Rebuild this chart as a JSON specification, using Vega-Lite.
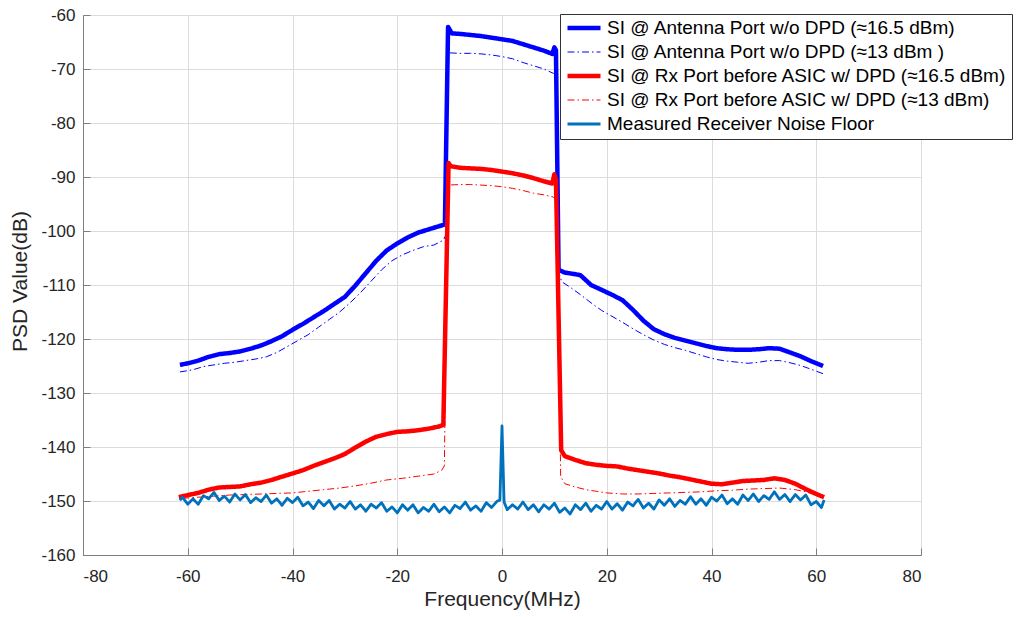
{
  "$schema": "https://vega.github.io/schema/vega-lite/v6.json",
  "width": 838,
  "height": 540,
  "autosize": {"type": "none"},
  "padding": {"left": 83, "top": 15, "right": 99, "bottom": 62},
  "background": "white",
  "data": {
    "values": [
      {"s": "A16", "f": -61.5, "p": -124.8}, {"s": "A16", "f": -60, "p": -124.5}, {"s": "A16", "f": -58, "p": -124.0}, {"s": "A16", "f": -56, "p": -123.3},
      {"s": "A16", "f": -54, "p": -122.8}, {"s": "A16", "f": -52, "p": -122.6}, {"s": "A16", "f": -50, "p": -122.3}, {"s": "A16", "f": -48, "p": -121.8},
      {"s": "A16", "f": -46, "p": -121.2}, {"s": "A16", "f": -44, "p": -120.4}, {"s": "A16", "f": -42, "p": -119.5}, {"s": "A16", "f": -40, "p": -118.3},
      {"s": "A16", "f": -38, "p": -117.2}, {"s": "A16", "f": -36, "p": -116.0}, {"s": "A16", "f": -34, "p": -114.8}, {"s": "A16", "f": -32, "p": -113.5},
      {"s": "A16", "f": -30, "p": -112.2}, {"s": "A16", "f": -28, "p": -110.1}, {"s": "A16", "f": -26, "p": -107.8}, {"s": "A16", "f": -24, "p": -105.5},
      {"s": "A16", "f": -22, "p": -103.6}, {"s": "A16", "f": -20, "p": -102.3}, {"s": "A16", "f": -18, "p": -101.2}, {"s": "A16", "f": -16, "p": -100.3},
      {"s": "A16", "f": -14, "p": -99.7}, {"s": "A16", "f": -12, "p": -99.1}, {"s": "A16", "f": -10.9, "p": -98.8}, {"s": "A16", "f": -10.3, "p": -62.2},
      {"s": "A16", "f": -9.6, "p": -63.4}, {"s": "A16", "f": -8, "p": -63.5}, {"s": "A16", "f": -6, "p": -63.7}, {"s": "A16", "f": -4, "p": -63.9},
      {"s": "A16", "f": -2, "p": -64.2}, {"s": "A16", "f": 0, "p": -64.5}, {"s": "A16", "f": 2, "p": -64.8}, {"s": "A16", "f": 4, "p": -65.4},
      {"s": "A16", "f": 6, "p": -66.0}, {"s": "A16", "f": 8, "p": -66.6}, {"s": "A16", "f": 9.6, "p": -67.2}, {"s": "A16", "f": 10.0, "p": -66.0},
      {"s": "A16", "f": 10.3, "p": -66.5}, {"s": "A16", "f": 10.8, "p": -107.2}, {"s": "A16", "f": 12, "p": -107.7}, {"s": "A16", "f": 14, "p": -108.0},
      {"s": "A16", "f": 15, "p": -108.2}, {"s": "A16", "f": 17, "p": -110.0}, {"s": "A16", "f": 19, "p": -110.9}, {"s": "A16", "f": 21, "p": -111.8},
      {"s": "A16", "f": 23, "p": -112.8}, {"s": "A16", "f": 25, "p": -114.6}, {"s": "A16", "f": 27, "p": -116.6}, {"s": "A16", "f": 29, "p": -118.2},
      {"s": "A16", "f": 31, "p": -119.1}, {"s": "A16", "f": 33, "p": -119.8}, {"s": "A16", "f": 35, "p": -120.3}, {"s": "A16", "f": 37, "p": -120.8},
      {"s": "A16", "f": 39, "p": -121.3}, {"s": "A16", "f": 41, "p": -121.7}, {"s": "A16", "f": 43, "p": -121.9}, {"s": "A16", "f": 45, "p": -122.0},
      {"s": "A16", "f": 47, "p": -122.0}, {"s": "A16", "f": 49, "p": -121.9}, {"s": "A16", "f": 51, "p": -121.7}, {"s": "A16", "f": 53, "p": -121.8},
      {"s": "A16", "f": 55, "p": -122.5}, {"s": "A16", "f": 57, "p": -123.2}, {"s": "A16", "f": 59, "p": -124.1}, {"s": "A16", "f": 61.3, "p": -125.0},

      {"s": "A13", "f": -61.5, "p": -126.1}, {"s": "A13", "f": -59, "p": -125.7}, {"s": "A13", "f": -57, "p": -125.1}, {"s": "A13", "f": -55, "p": -124.8},
      {"s": "A13", "f": -53, "p": -124.5}, {"s": "A13", "f": -51, "p": -124.3}, {"s": "A13", "f": -49, "p": -124.0}, {"s": "A13", "f": -47, "p": -123.7},
      {"s": "A13", "f": -45, "p": -123.3}, {"s": "A13", "f": -43, "p": -122.5}, {"s": "A13", "f": -41, "p": -121.4}, {"s": "A13", "f": -39, "p": -120.3},
      {"s": "A13", "f": -37, "p": -119.2}, {"s": "A13", "f": -35, "p": -117.8}, {"s": "A13", "f": -33, "p": -116.4}, {"s": "A13", "f": -31, "p": -115.0},
      {"s": "A13", "f": -29, "p": -113.3}, {"s": "A13", "f": -27, "p": -111.4}, {"s": "A13", "f": -25, "p": -109.3}, {"s": "A13", "f": -23, "p": -107.2},
      {"s": "A13", "f": -21, "p": -105.5}, {"s": "A13", "f": -19, "p": -104.4}, {"s": "A13", "f": -17, "p": -103.6}, {"s": "A13", "f": -15, "p": -102.9},
      {"s": "A13", "f": -13, "p": -102.6}, {"s": "A13", "f": -11.2, "p": -101.7}, {"s": "A13", "f": -10.6, "p": -100.5}, {"s": "A13", "f": -10.3, "p": -67.0},
      {"s": "A13", "f": -8, "p": -67.1}, {"s": "A13", "f": -6, "p": -67.1}, {"s": "A13", "f": -4, "p": -67.2}, {"s": "A13", "f": -2, "p": -67.4},
      {"s": "A13", "f": 0, "p": -67.7}, {"s": "A13", "f": 2, "p": -68.1}, {"s": "A13", "f": 4, "p": -68.8}, {"s": "A13", "f": 6, "p": -69.4},
      {"s": "A13", "f": 8, "p": -70.0}, {"s": "A13", "f": 9.8, "p": -70.8}, {"s": "A13", "f": 10.3, "p": -70.9}, {"s": "A13", "f": 10.8, "p": -107.5},
      {"s": "A13", "f": 11.4, "p": -109.4}, {"s": "A13", "f": 13, "p": -110.4}, {"s": "A13", "f": 15, "p": -111.8}, {"s": "A13", "f": 17, "p": -113.3},
      {"s": "A13", "f": 19, "p": -114.7}, {"s": "A13", "f": 21, "p": -115.8}, {"s": "A13", "f": 23, "p": -116.9}, {"s": "A13", "f": 25, "p": -118.1},
      {"s": "A13", "f": 27, "p": -119.2}, {"s": "A13", "f": 29, "p": -120.2}, {"s": "A13", "f": 31, "p": -121.0}, {"s": "A13", "f": 33, "p": -121.6},
      {"s": "A13", "f": 35, "p": -122.1}, {"s": "A13", "f": 37, "p": -122.7}, {"s": "A13", "f": 39, "p": -123.3}, {"s": "A13", "f": 41, "p": -123.8},
      {"s": "A13", "f": 43, "p": -124.1}, {"s": "A13", "f": 45, "p": -124.3}, {"s": "A13", "f": 47, "p": -124.5}, {"s": "A13", "f": 49, "p": -124.3},
      {"s": "A13", "f": 51, "p": -124.0}, {"s": "A13", "f": 53, "p": -124.0}, {"s": "A13", "f": 55, "p": -124.4}, {"s": "A13", "f": 57, "p": -124.9},
      {"s": "A13", "f": 59, "p": -125.6}, {"s": "A13", "f": 61.5, "p": -126.5},

      {"s": "R16", "f": -61.7, "p": -149.3}, {"s": "R16", "f": -60, "p": -148.9}, {"s": "R16", "f": -58, "p": -148.5}, {"s": "R16", "f": -56, "p": -147.9},
      {"s": "R16", "f": -54, "p": -147.5}, {"s": "R16", "f": -52, "p": -147.4}, {"s": "R16", "f": -50, "p": -147.3}, {"s": "R16", "f": -48, "p": -146.9},
      {"s": "R16", "f": -46, "p": -146.6}, {"s": "R16", "f": -44, "p": -146.1}, {"s": "R16", "f": -42, "p": -145.5}, {"s": "R16", "f": -40, "p": -144.9},
      {"s": "R16", "f": -38, "p": -144.3}, {"s": "R16", "f": -36, "p": -143.5}, {"s": "R16", "f": -34, "p": -142.8}, {"s": "R16", "f": -32, "p": -142.1},
      {"s": "R16", "f": -30, "p": -141.3}, {"s": "R16", "f": -28, "p": -140.1}, {"s": "R16", "f": -26, "p": -139.0}, {"s": "R16", "f": -24, "p": -138.1},
      {"s": "R16", "f": -22, "p": -137.6}, {"s": "R16", "f": -20, "p": -137.2}, {"s": "R16", "f": -18, "p": -137.1}, {"s": "R16", "f": -16, "p": -136.9},
      {"s": "R16", "f": -14, "p": -136.6}, {"s": "R16", "f": -12, "p": -136.2}, {"s": "R16", "f": -11.2, "p": -135.9}, {"s": "R16", "f": -10.2, "p": -87.4},
      {"s": "R16", "f": -9.8, "p": -88.0}, {"s": "R16", "f": -8, "p": -88.3}, {"s": "R16", "f": -6, "p": -88.4}, {"s": "R16", "f": -4, "p": -88.5},
      {"s": "R16", "f": -2, "p": -88.7}, {"s": "R16", "f": 0, "p": -89.0}, {"s": "R16", "f": 2, "p": -89.3}, {"s": "R16", "f": 4, "p": -89.7},
      {"s": "R16", "f": 6, "p": -90.2}, {"s": "R16", "f": 8, "p": -90.8}, {"s": "R16", "f": 9.6, "p": -91.2}, {"s": "R16", "f": 10.0, "p": -89.5},
      {"s": "R16", "f": 10.3, "p": -90.5}, {"s": "R16", "f": 11.3, "p": -140.6}, {"s": "R16", "f": 12, "p": -141.7}, {"s": "R16", "f": 14, "p": -142.4},
      {"s": "R16", "f": 16, "p": -143.0}, {"s": "R16", "f": 18, "p": -143.3}, {"s": "R16", "f": 20, "p": -143.5}, {"s": "R16", "f": 22, "p": -143.6},
      {"s": "R16", "f": 24, "p": -144.0}, {"s": "R16", "f": 26, "p": -144.3}, {"s": "R16", "f": 28, "p": -144.6}, {"s": "R16", "f": 30, "p": -144.9},
      {"s": "R16", "f": 32, "p": -145.3}, {"s": "R16", "f": 34, "p": -145.6}, {"s": "R16", "f": 36, "p": -146.0}, {"s": "R16", "f": 38, "p": -146.4},
      {"s": "R16", "f": 40, "p": -146.8}, {"s": "R16", "f": 42, "p": -146.9}, {"s": "R16", "f": 44, "p": -146.6}, {"s": "R16", "f": 46, "p": -146.3},
      {"s": "R16", "f": 48, "p": -146.2}, {"s": "R16", "f": 50, "p": -146.1}, {"s": "R16", "f": 52, "p": -145.8}, {"s": "R16", "f": 54, "p": -146.1},
      {"s": "R16", "f": 56, "p": -146.8}, {"s": "R16", "f": 58, "p": -147.8}, {"s": "R16", "f": 60, "p": -148.7}, {"s": "R16", "f": 61.5, "p": -149.3},

      {"s": "R13", "f": -61, "p": -149.5}, {"s": "R13", "f": -58, "p": -149.3}, {"s": "R13", "f": -55, "p": -149.1}, {"s": "R13", "f": -52, "p": -148.9},
      {"s": "R13", "f": -49, "p": -148.8}, {"s": "R13", "f": -46, "p": -148.7}, {"s": "R13", "f": -43, "p": -148.6}, {"s": "R13", "f": -40, "p": -148.5},
      {"s": "R13", "f": -37, "p": -148.2}, {"s": "R13", "f": -34, "p": -147.9}, {"s": "R13", "f": -31, "p": -147.6}, {"s": "R13", "f": -28, "p": -147.2},
      {"s": "R13", "f": -25, "p": -146.7}, {"s": "R13", "f": -22, "p": -146.1}, {"s": "R13", "f": -19, "p": -145.8}, {"s": "R13", "f": -16, "p": -145.4},
      {"s": "R13", "f": -13, "p": -145.0}, {"s": "R13", "f": -11.5, "p": -144.3}, {"s": "R13", "f": -11, "p": -143.5}, {"s": "R13", "f": -10.4, "p": -91.5},
      {"s": "R13", "f": -8, "p": -91.4}, {"s": "R13", "f": -6, "p": -91.4}, {"s": "R13", "f": -4, "p": -91.5}, {"s": "R13", "f": -2, "p": -91.6},
      {"s": "R13", "f": 0, "p": -91.8}, {"s": "R13", "f": 2, "p": -92.1}, {"s": "R13", "f": 4, "p": -92.5}, {"s": "R13", "f": 6, "p": -93.0},
      {"s": "R13", "f": 8, "p": -93.3}, {"s": "R13", "f": 9.8, "p": -93.7}, {"s": "R13", "f": 10.6, "p": -94.5}, {"s": "R13", "f": 11.2, "p": -145.5},
      {"s": "R13", "f": 12, "p": -146.8}, {"s": "R13", "f": 14, "p": -147.4}, {"s": "R13", "f": 16, "p": -147.9}, {"s": "R13", "f": 18, "p": -148.2},
      {"s": "R13", "f": 20, "p": -148.5}, {"s": "R13", "f": 23, "p": -148.7}, {"s": "R13", "f": 26, "p": -148.7}, {"s": "R13", "f": 29, "p": -148.6},
      {"s": "R13", "f": 32, "p": -148.5}, {"s": "R13", "f": 35, "p": -148.4}, {"s": "R13", "f": 38, "p": -148.3}, {"s": "R13", "f": 41, "p": -148.1},
      {"s": "R13", "f": 44, "p": -148.0}, {"s": "R13", "f": 47, "p": -147.8}, {"s": "R13", "f": 50, "p": -147.7}, {"s": "R13", "f": 53, "p": -147.6},
      {"s": "R13", "f": 56, "p": -147.9}, {"s": "R13", "f": 58, "p": -148.3}, {"s": "R13", "f": 60, "p": -148.9}, {"s": "R13", "f": 61, "p": -149.2},

      {"s": "NF", "f": -61.5, "p": -149.9}, {"s": "NF", "f": -61, "p": -149.3}, {"s": "NF", "f": -60, "p": -150.6}, {"s": "NF", "f": -59, "p": -149.6},
      {"s": "NF", "f": -58, "p": -150.6}, {"s": "NF", "f": -57, "p": -149.0}, {"s": "NF", "f": -56, "p": -149.6}, {"s": "NF", "f": -55, "p": -148.4},
      {"s": "NF", "f": -54, "p": -149.9}, {"s": "NF", "f": -53, "p": -149.1}, {"s": "NF", "f": -52, "p": -150.2}, {"s": "NF", "f": -51, "p": -148.7},
      {"s": "NF", "f": -50, "p": -149.8}, {"s": "NF", "f": -49, "p": -148.8}, {"s": "NF", "f": -48, "p": -150.3}, {"s": "NF", "f": -47, "p": -149.4},
      {"s": "NF", "f": -46, "p": -150.1}, {"s": "NF", "f": -45, "p": -148.9}, {"s": "NF", "f": -44, "p": -150.4}, {"s": "NF", "f": -43, "p": -149.6},
      {"s": "NF", "f": -42, "p": -150.8}, {"s": "NF", "f": -41, "p": -149.5}, {"s": "NF", "f": -40, "p": -150.3}, {"s": "NF", "f": -39, "p": -149.3},
      {"s": "NF", "f": -38, "p": -150.9}, {"s": "NF", "f": -37, "p": -150.2}, {"s": "NF", "f": -36, "p": -151.4}, {"s": "NF", "f": -35, "p": -149.9},
      {"s": "NF", "f": -34, "p": -150.9}, {"s": "NF", "f": -33, "p": -149.9}, {"s": "NF", "f": -32, "p": -151.5}, {"s": "NF", "f": -31, "p": -150.6},
      {"s": "NF", "f": -30, "p": -151.3}, {"s": "NF", "f": -29, "p": -150.1}, {"s": "NF", "f": -28, "p": -151.5}, {"s": "NF", "f": -27, "p": -150.7},
      {"s": "NF", "f": -26, "p": -151.9}, {"s": "NF", "f": -25, "p": -150.6}, {"s": "NF", "f": -24, "p": -151.3}, {"s": "NF", "f": -23, "p": -150.3},
      {"s": "NF", "f": -22, "p": -151.9}, {"s": "NF", "f": -21, "p": -151.1}, {"s": "NF", "f": -20, "p": -152.2}, {"s": "NF", "f": -19, "p": -150.7},
      {"s": "NF", "f": -18, "p": -151.7}, {"s": "NF", "f": -17, "p": -150.7}, {"s": "NF", "f": -16, "p": -152.2}, {"s": "NF", "f": -15, "p": -151.2},
      {"s": "NF", "f": -14, "p": -151.9}, {"s": "NF", "f": -13, "p": -150.6}, {"s": "NF", "f": -12, "p": -152.0}, {"s": "NF", "f": -11, "p": -151.1},
      {"s": "NF", "f": -10, "p": -152.2}, {"s": "NF", "f": -9, "p": -150.8}, {"s": "NF", "f": -8, "p": -151.4}, {"s": "NF", "f": -7, "p": -150.2},
      {"s": "NF", "f": -6, "p": -151.7}, {"s": "NF", "f": -5, "p": -150.9}, {"s": "NF", "f": -4, "p": -151.9}, {"s": "NF", "f": -3, "p": -150.3},
      {"s": "NF", "f": -2, "p": -151.2}, {"s": "NF", "f": -1, "p": -150.1}, {"s": "NF", "f": -0.4, "p": -149.8}, {"s": "NF", "f": 0, "p": -136.1},
      {"s": "NF", "f": 0.4, "p": -150.2}, {"s": "NF", "f": 1, "p": -151.6}, {"s": "NF", "f": 2, "p": -150.7}, {"s": "NF", "f": 3, "p": -151.5},
      {"s": "NF", "f": 4, "p": -150.2}, {"s": "NF", "f": 5, "p": -151.6}, {"s": "NF", "f": 6, "p": -150.7}, {"s": "NF", "f": 7, "p": -152.0},
      {"s": "NF", "f": 8, "p": -150.7}, {"s": "NF", "f": 9, "p": -151.5}, {"s": "NF", "f": 10, "p": -150.4}, {"s": "NF", "f": 11, "p": -152.1},
      {"s": "NF", "f": 12, "p": -151.3}, {"s": "NF", "f": 13, "p": -152.4}, {"s": "NF", "f": 14, "p": -150.7}, {"s": "NF", "f": 15, "p": -151.6},
      {"s": "NF", "f": 16, "p": -150.4}, {"s": "NF", "f": 17, "p": -151.9}, {"s": "NF", "f": 18, "p": -150.8}, {"s": "NF", "f": 19, "p": -151.5},
      {"s": "NF", "f": 20, "p": -150.1}, {"s": "NF", "f": 21, "p": -151.5}, {"s": "NF", "f": 22, "p": -150.5}, {"s": "NF", "f": 23, "p": -151.7},
      {"s": "NF", "f": 24, "p": -150.2}, {"s": "NF", "f": 25, "p": -150.9}, {"s": "NF", "f": 26, "p": -149.7}, {"s": "NF", "f": 27, "p": -151.3},
      {"s": "NF", "f": 28, "p": -150.4}, {"s": "NF", "f": 29, "p": -151.5}, {"s": "NF", "f": 30, "p": -149.8}, {"s": "NF", "f": 31, "p": -150.8},
      {"s": "NF", "f": 32, "p": -149.6}, {"s": "NF", "f": 33, "p": -151.0}, {"s": "NF", "f": 34, "p": -149.9}, {"s": "NF", "f": 35, "p": -150.6},
      {"s": "NF", "f": 36, "p": -149.2}, {"s": "NF", "f": 37, "p": -150.6}, {"s": "NF", "f": 38, "p": -149.6}, {"s": "NF", "f": 39, "p": -150.8},
      {"s": "NF", "f": 40, "p": -149.3}, {"s": "NF", "f": 41, "p": -150.0}, {"s": "NF", "f": 42, "p": -148.9}, {"s": "NF", "f": 43, "p": -150.5},
      {"s": "NF", "f": 44, "p": -149.6}, {"s": "NF", "f": 45, "p": -150.6}, {"s": "NF", "f": 46, "p": -148.9}, {"s": "NF", "f": 47, "p": -149.9},
      {"s": "NF", "f": 48, "p": -148.7}, {"s": "NF", "f": 49, "p": -150.1}, {"s": "NF", "f": 50, "p": -149.0}, {"s": "NF", "f": 51, "p": -149.7},
      {"s": "NF", "f": 52, "p": -148.3}, {"s": "NF", "f": 53, "p": -149.7}, {"s": "NF", "f": 54, "p": -148.8}, {"s": "NF", "f": 55, "p": -150.1},
      {"s": "NF", "f": 56, "p": -148.8}, {"s": "NF", "f": 57, "p": -149.8}, {"s": "NF", "f": 58, "p": -148.9}, {"s": "NF", "f": 59, "p": -150.7},
      {"s": "NF", "f": 60, "p": -150.1}, {"s": "NF", "f": 61, "p": -151.2}, {"s": "NF", "f": 61.5, "p": -149.8}
    ]
  },
  "encoding": {
    "x": {
      "field": "f", "type": "quantitative",
      "scale": {"domain": [-80, 80], "nice": false, "zero": false},
      "axis": {"title": "Frequency(MHz)", "values": [-80, -60, -40, -20, 0, 20, 40, 60, 80], "labelPadding": 20, "titleY": 50, "titleBaseline": "alphabetic"}
    },
    "y": {
      "field": "p", "type": "quantitative",
      "scale": {"domain": [-160, -60], "nice": false, "zero": false},
      "axis": {"title": "PSD Value(dB)", "values": [-160, -150, -140, -130, -120, -110, -100, -90, -80, -70, -60], "labelPadding": 15, "titleX": -63, "titleY": 266, "titleBaseline": "middle", "titleAlign": "center", "titleAngle": 270}
    },
    "color": {
      "field": "s", "type": "nominal",
      "scale": {"domain": ["A16", "A13", "R16", "R13", "NF"], "range": ["#0000ff", "#0000ff", "#ff0000", "#ff0000", "#0072bd"]},
      "legend": {"title": null, "labelExpr": "datum.label == 'A16' ? 'SI @ Antenna Port w/o DPD (≈16.5 dBm)' : datum.label == 'A13' ? 'SI @ Antenna Port w/o DPD (≈13 dBm )' : datum.label == 'R16' ? 'SI @ Rx Port before ASIC w/ DPD (≈16.5 dBm)' : datum.label == 'R13' ? 'SI @ Rx Port before ASIC w/ DPD (≈13 dBm)' : 'Measured Receiver Noise Floor'"}
    },
    "strokeDash": {
      "field": "s", "type": "nominal",
      "scale": {"domain": ["A16", "A13", "R16", "R13", "NF"], "range": [[1, 0], [7, 3, 1.5, 3], [1, 0], [7, 3, 1.5, 3], [1, 0]]},
      "legend": {"title": null, "labelExpr": "datum.label == 'A16' ? 'SI @ Antenna Port w/o DPD (≈16.5 dBm)' : datum.label == 'A13' ? 'SI @ Antenna Port w/o DPD (≈13 dBm )' : datum.label == 'R16' ? 'SI @ Rx Port before ASIC w/ DPD (≈16.5 dBm)' : datum.label == 'R13' ? 'SI @ Rx Port before ASIC w/ DPD (≈13 dBm)' : 'Measured Receiver Noise Floor'"}
    },
    "strokeWidth": {
      "field": "s", "type": "nominal",
      "scale": {"type": "ordinal", "domain": ["A16", "A13", "R16", "R13", "NF"], "range": [4.5, 1, 4.5, 1, 2.8]},
      "legend": {"title": null, "labelExpr": "datum.label == 'A16' ? 'SI @ Antenna Port w/o DPD (≈16.5 dBm)' : datum.label == 'A13' ? 'SI @ Antenna Port w/o DPD (≈13 dBm )' : datum.label == 'R16' ? 'SI @ Rx Port before ASIC w/ DPD (≈16.5 dBm)' : datum.label == 'R13' ? 'SI @ Rx Port before ASIC w/ DPD (≈13 dBm)' : 'Measured Receiver Noise Floor'"}
    }
  },
  "layer": [
    {"transform": [{"filter": {"field": "s", "equal": "A16"}}], "mark": {"type": "line", "strokeJoin": "round"}},
    {"transform": [{"filter": {"field": "s", "equal": "A13"}}], "mark": {"type": "line", "strokeJoin": "round"}},
    {"transform": [{"filter": {"field": "s", "equal": "R16"}}], "mark": {"type": "line", "strokeJoin": "round"}},
    {"transform": [{"filter": {"field": "s", "equal": "R13"}}], "mark": {"type": "line", "strokeJoin": "round"}},
    {"transform": [{"filter": {"field": "s", "equal": "NF"}}], "mark": {"type": "line", "strokeJoin": "round"}}
  ],
  "config": {
    "view": {"stroke": "#808080", "strokeWidth": 1},
    "axis": {
      "labelFont": "Liberation Sans", "labelFontSize": 17, "labelColor": "#262626",
      "titleFont": "Liberation Sans", "titleFontSize": 21, "titleFontWeight": "normal", "titleColor": "#262626",
      "grid": true, "gridColor": "#dcdcdc", "gridWidth": 1,
      "domainColor": "#808080", "domainWidth": 1,
      "tickColor": "#808080", "tickSize": -7,
      "labelExpr": "'' + datum.value"
    },
    "legend": {
      "orient": "none", "legendX": 477, "legendY": -1,
      "fillColor": "white", "strokeColor": "#333333", "padding": 5,
      "labelFont": "Liberation Sans", "labelFontSize": 19, "labelColor": "black", "labelLimit": 700,
      "labelOffset": 4, "symbolType": "stroke", "symbolSize": 1089, "clipHeight": 18, "rowPadding": 5
    }
  }
}
